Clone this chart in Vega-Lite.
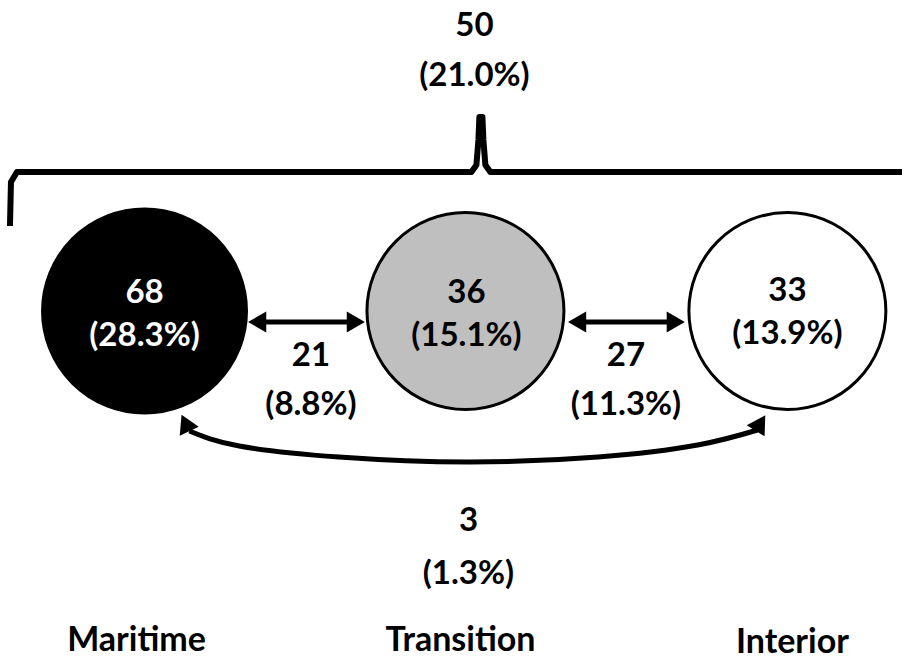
{
  "$schema": "https://vega.github.io/schema/vega-lite/v6.json",
  "width": 905,
  "height": 662,
  "autosize": {"type": "fit", "contains": "padding"},
  "padding": 0,
  "background": "white",
  "config": {"view": {"stroke": null}, "axis": {"disable": true}},
  "datasets": {
    "brace": [
      {"i": 1, "x": 10, "y": 226},
      {"i": 2, "x": 11, "y": 182},
      {"i": 3, "x": 17, "y": 172},
      {"i": 4, "x": 473, "y": 172},
      {"i": 5, "x": 478, "y": 165},
      {"i": 6, "x": 480, "y": 140},
      {"i": 7, "x": 481, "y": 117},
      {"i": 8, "x": 484, "y": 117},
      {"i": 9, "x": 485, "y": 140},
      {"i": 10, "x": 487, "y": 165},
      {"i": 11, "x": 492, "y": 172},
      {"i": 12, "x": 905, "y": 172}
    ],
    "circles": [
      {"name": "Maritime", "x": 145, "y": 311, "fill": "#000000", "size": 41600},
      {"name": "Transition", "x": 467, "y": 311, "fill": "#bfbfbf", "size": 38800},
      {"name": "Interior", "x": 790, "y": 311, "fill": "#ffffff", "size": 38800}
    ],
    "arrows": [
      {"x": 258, "x2": 357, "y": 322},
      {"x": 579, "x2": 678, "y": 322}
    ],
    "heads": [
      {"x": 258, "y": 322, "shape": "triangle-left", "angle": 0},
      {"x": 357, "y": 322, "shape": "triangle-right", "angle": 0},
      {"x": 579, "y": 322, "shape": "triangle-left", "angle": 0},
      {"x": 678, "y": 322, "shape": "triangle-right", "angle": 0},
      {"x": 186, "y": 423, "shape": "triangle-up", "angle": -25},
      {"x": 763, "y": 423, "shape": "triangle-up", "angle": 32}
    ],
    "curve": [
      {"i": 1, "x": 190, "y": 431},
      {"i": 2, "x": 240, "y": 446},
      {"i": 3, "x": 340, "y": 457},
      {"i": 4, "x": 470, "y": 462},
      {"i": 5, "x": 600, "y": 457},
      {"i": 6, "x": 700, "y": 445},
      {"i": 7, "x": 760, "y": 430}
    ],
    "labels": [
      {"t": "50", "x": 476, "y": 26, "c": "black", "s": 33},
      {"t": "(21.0%)", "x": 476, "y": 76, "c": "black", "s": 33},
      {"t": "68", "x": 145, "y": 293, "c": "white", "s": 33},
      {"t": "(28.3%)", "x": 145, "y": 336, "c": "white", "s": 33},
      {"t": "36", "x": 468, "y": 293, "c": "black", "s": 33},
      {"t": "(15.1%)", "x": 468, "y": 336, "c": "black", "s": 33},
      {"t": "33", "x": 790, "y": 291, "c": "black", "s": 33},
      {"t": "(13.9%)", "x": 790, "y": 334, "c": "black", "s": 33},
      {"t": "21", "x": 312, "y": 356, "c": "black", "s": 33},
      {"t": "(8.8%)", "x": 312, "y": 405, "c": "black", "s": 33},
      {"t": "27", "x": 628, "y": 356, "c": "black", "s": 33},
      {"t": "(11.3%)", "x": 628, "y": 405, "c": "black", "s": 33},
      {"t": "3", "x": 470, "y": 521, "c": "black", "s": 33},
      {"t": "(1.3%)", "x": 470, "y": 574, "c": "black", "s": 33},
      {"t": "Maritime", "x": 137, "y": 641, "c": "black", "s": 34},
      {"t": "Transition", "x": 462, "y": 641, "c": "black", "s": 34},
      {"t": "Interior", "x": 795, "y": 643, "c": "black", "s": 34}
    ]
  },
  "encoding": {
    "x": {"field": "x", "type": "quantitative", "scale": {"domain": [0, 905]}, "axis": null},
    "y": {"field": "y", "type": "quantitative", "scale": {"domain": [0, 662], "reverse": true}, "axis": null}
  },
  "layer": [
    {
      "data": {"name": "brace"},
      "mark": {"type": "line", "color": "black", "strokeWidth": 6, "strokeJoin": "round"},
      "encoding": {"order": {"field": "i", "type": "quantitative"}}
    },
    {
      "data": {"name": "circles"},
      "mark": {"type": "point", "shape": "circle", "filled": true, "stroke": "black", "strokeWidth": 3, "opacity": 1},
      "encoding": {
        "fill": {"field": "fill", "type": "nominal", "scale": null},
        "size": {"field": "size", "type": "quantitative", "scale": null}
      }
    },
    {
      "data": {"name": "arrows"},
      "mark": {"type": "rule", "color": "black", "strokeWidth": 5},
      "encoding": {"x2": {"field": "x2"}}
    },
    {
      "data": {"name": "curve"},
      "mark": {"type": "line", "color": "black", "strokeWidth": 5, "interpolate": "natural"},
      "encoding": {"order": {"field": "i", "type": "quantitative"}}
    },
    {
      "data": {"name": "heads"},
      "mark": {"type": "point", "filled": true, "color": "black", "opacity": 1, "size": 440},
      "encoding": {
        "shape": {"field": "shape", "type": "nominal", "scale": null},
        "angle": {"field": "angle", "type": "quantitative", "scale": null}
      }
    },
    {
      "data": {"name": "labels"},
      "mark": {"type": "text", "font": "Lato", "fontWeight": "bold", "align": "center", "baseline": "middle"},
      "encoding": {
        "text": {"field": "t"},
        "color": {"field": "c", "type": "nominal", "scale": null},
        "size": {"field": "s", "type": "quantitative", "scale": null}
      }
    }
  ]
}
